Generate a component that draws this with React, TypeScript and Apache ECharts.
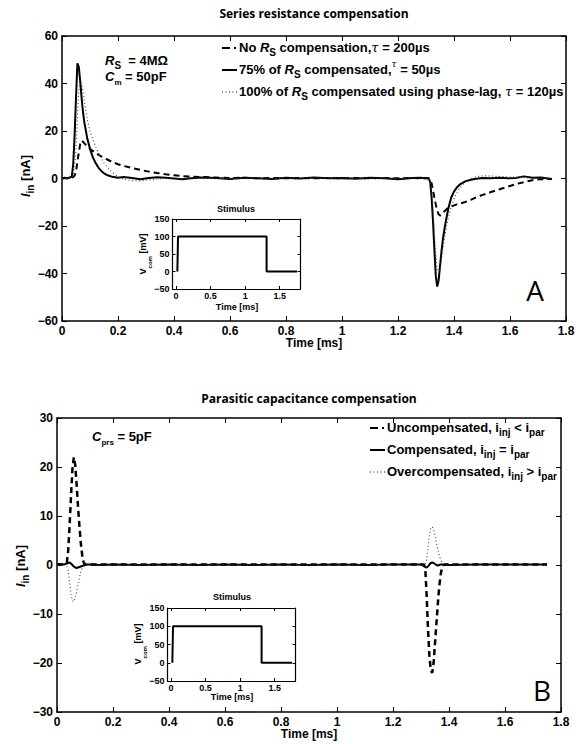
import React, { useEffect, useRef } from "react";
import * as echarts from "echarts";

// ---------- Data ----------
// Panel A: series resistance compensation (time in ms, current in nA)
const topTime = [0, 0.01, 0.02, 0.03, 0.035, 0.04, 0.045, 0.05, 0.055, 0.06, 0.065, 0.07, 0.075, 0.08, 0.09, 0.1, 0.11, 0.12, 0.13, 0.14, 0.15, 0.16, 0.18, 0.2, 0.22, 0.25, 0.28, 0.31, 0.34, 0.37, 0.4, 0.43, 0.46, 0.5, 0.55, 0.6, 0.65, 0.7, 0.75, 0.8, 0.85, 0.9, 0.95, 1.0, 1.05, 1.1, 1.15, 1.2, 1.25, 1.28, 1.3, 1.31, 1.315, 1.32, 1.325, 1.33, 1.335, 1.34, 1.345, 1.35, 1.355, 1.36, 1.365, 1.37, 1.375, 1.38, 1.39, 1.4, 1.41, 1.42, 1.44, 1.46, 1.48, 1.5, 1.53, 1.56, 1.59, 1.62, 1.65, 1.68, 1.71, 1.75];
const topNoComp = [0.1, 0.2, 0.1, 0.3, 0.3, 0.6, 1.2, 3, 7, 11, 14.5, 16, 15.5, 14.8, 13.5, 12.5, 11.6, 10.8, 10, 9.3, 8.7, 8.1, 6.9, 6.0, 5.3, 4.4, 3.6, 2.9, 2.3, 1.8, 1.4, 1.0, 0.8, 0.6, 0.4, 0.2, 0.3, 0.1, 0.2, 0.1, 0.2, 0.1, 0.2, 0.1, 0.2, 0.1, 0.2, 0.1, 0.2, 0.1, 0.2, 0.1, -0.5, -2, -5, -8, -11, -13.5, -15, -15.6, -15.2, -14.5, -13.9, -13.3, -12.8, -12.4, -11.8, -11.3, -10.9, -10.6, -9.9, -9.0, -7.9, -7.0, -5.8, -4.6, -3.5, -2.4, -1.5, -0.7, -0.3, -0.2];
const top75Comp = [0, 0.3, 0.1, 0.5, 0.9, 6, 18, 34, 48.5, 47, 41, 34, 28, 23.5, 17, 12.5, 9, 6.5, 4.6, 3.2, 2.2, 1.5, 0.7, 0.3, 0.6, 0.2, -0.3, 0.2, 0.5, 0.3, 0.0, -0.3, 0.1, 0.4, 0.2, -0.2, 0.3, 0.1, -0.2, 0.3, 0.0, 0.4, 0.1, 0.2, -0.1, 0.3, 0.1, -0.3, 0.2, 0.3, 0.1, 0.0, -1.5, -8, -18, -30, -41, -45.5, -43, -37, -31, -26, -22, -18.5, -15.5, -12.5, -8, -5.5, -3.8, -2.6, -1.2, -0.5, -0.1, 0.2, 0.1, 0.3, 0.1, 0.2, 0.9, 0.3, 0.4, -0.2];
const topPhaseLag = [0, 0.2, 0.1, 0.3, 0.4, 1.5, 5, 12, 26, 37, 41, 40, 36.5, 32.5, 25, 20, 16.5, 13.5, 11, 8.5, 6.5, 5, 2.5, 0.8, -0.3, -0.9, -1.0, -0.6, -0.2, 0.1, 0.2, -0.1, 0.2, 0.3, 0.1, -0.1, 0.2, 0.1, -0.1, 0.2, 0.1, 0.3, 0.1, 0.2, 0.0, 0.2, 0.1, -0.1, 0.2, 0.2, 0.1, 0.0, -1, -5, -13, -23, -32, -38, -40, -38.5, -34.5, -30, -26, -22.5, -19.5, -16.5, -12, -8.5, -6, -4, -1.5, 0, 0.8, 1.1, 1.1, 0.9, 0.7, 0.5, 0.3, 0.2, 0.1, 0.0];

// Panel B: parasitic capacitance compensation
const botTime = [0, 0.02, 0.03, 0.035, 0.04, 0.045, 0.05, 0.055, 0.06, 0.065, 0.07, 0.075, 0.08, 0.085, 0.09, 0.095, 0.1, 0.11, 0.12, 0.15, 0.2, 0.3, 0.4, 0.5, 0.6, 0.7, 0.8, 0.9, 1.0, 1.1, 1.2, 1.3, 1.31, 1.315, 1.32, 1.325, 1.33, 1.335, 1.34, 1.345, 1.35, 1.355, 1.36, 1.365, 1.37, 1.375, 1.38, 1.39, 1.4, 1.5, 1.6, 1.75];
const botUncomp = [0.1, 0.1, 0.2, 0.5, 3, 8, 14, 19.5, 22, 20.5, 16.5, 12, 8, 4.5, 2, 0.6, 0.1, 0.1, 0.1, 0.1, 0.1, 0.1, 0.1, 0.1, 0.1, 0.1, 0.1, 0.1, 0.1, 0.1, 0.1, 0.1, 0.1, -0.5, -6, -13, -18.5, -21.5, -22, -20, -16, -12, -8, -4.5, -2, -0.6, 0, 0.1, 0.1, 0.1, 0.1, 0.1];
const botComp = [0.2, 0.1, 0.2, 0.3, 0.4, 0.5, 0.3, 0, -0.3, -0.5, -0.6, -0.5, -0.4, -0.3, -0.2, -0.1, 0, 0.1, 0.1, 0.0, 0.1, 0.0, 0.1, 0.0, 0.1, 0.0, 0.1, 0.0, 0.1, 0.0, 0.1, 0.1, -0.2, -0.4, -0.5, -0.3, 0.1, 0.4, 0.5, 0.4, 0.2, 0, -0.1, 0, 0.1, 0.1, 0.1, 0.1, 0, 0.1, 0.1, 0.1];
const botOvercomp = [0, 0, 0, -0.2, -1, -3.5, -6, -7.3, -7.5, -6.8, -5.5, -4, -2.6, -1.4, -0.6, -0.1, 0, 0, 0, 0, 0, 0, 0, 0, 0, 0, 0, 0, 0, 0, 0, 0, 0, 0.2, 1, 3.5, 6, 7.5, 7.8, 7.2, 6, 4.6, 3.2, 2, 1.1, 0.5, 0.1, 0, 0, 0, 0, 0];

// Stimulus inset (ms, mV)
const stimTime = [0.02, 0.03, 0.03, 1.31, 1.31, 1.75];
const stimVoltage = [0, 0, 100, 100, 0, 0];
const insetXTicks = [0, 0.5, 1, 1.5];

// ---------- Styling helpers ----------
const FONT = "'Liberation Sans', Arial, Helvetica, sans-serif";
const TITLE_FONT = "'Open Sans', 'Liberation Sans', sans-serif";
const minusFmt = (v: number) => String(v).replace("-", "\u2212");

function xAxes(gridIndex: number, min: number, max: number, interval: number | undefined, fontSize: number, tickLen: number, lw: number, custom?: number[]) {
  const base = (pos: string, label: boolean) => ({
    type: "value",
    gridIndex,
    position: pos,
    min,
    max,
    ...(interval !== undefined ? { interval } : {}),
    axisLine: { show: true, onZero: false, lineStyle: { color: "#000", width: lw } },
    axisTick: { show: true, inside: true, length: tickLen, lineStyle: { color: "#000", width: 1 }, ...(custom ? { customValues: custom } : {}) },
    axisLabel: {
      show: label,
      margin: fontSize > 10 ? 4 : 2,
      color: "#000",
      fontFamily: FONT,
      fontWeight: "bold",
      fontSize,
      formatter: minusFmt,
      showMinLabel: true,
      showMaxLabel: true,
      ...(custom ? { customValues: custom } : {}),
    },
    splitLine: { show: false },
  });
  return [base("bottom", true), base("top", false)];
}

function yAxes(gridIndex: number, min: number, max: number, interval: number, fontSize: number, tickLen: number, lw: number) {
  const base = (pos: string, label: boolean) => ({
    type: "value",
    gridIndex,
    position: pos,
    min,
    max,
    interval,
    axisLine: { show: true, onZero: false, lineStyle: { color: "#000", width: lw } },
    axisTick: { show: true, inside: true, length: tickLen, lineStyle: { color: "#000", width: 1 } },
    axisLabel: {
      show: label,
      margin: fontSize > 10 ? 4 : 3,
      color: "#000",
      fontFamily: FONT,
      fontWeight: "bold",
      fontSize,
      formatter: minusFmt,
      showMinLabel: true,
      showMaxLabel: true,
    },
    splitLine: { show: false },
  });
  return [base("left", true), base("right", false)];
}

const pairs = (xs: number[], ys: number[]) => xs.map((x, i) => [x, ys[i]]);

function lineSeries(name: string, xi: number, yi: number, data: number[][], style: any, z = 2) {
  return {
    name,
    type: "line",
    xAxisIndex: xi,
    yAxisIndex: yi,
    data,
    showSymbol: false,
    symbol: "none",
    z,
    lineStyle: style,
    emphasis: { disabled: true },
  };
}

const richBase = (fs: number) => ({
  t: { fontFamily: FONT, fontWeight: "bold", fontSize: fs, fill: "#000", lineHeight: 20, verticalAlign: "middle" },
  i: { fontFamily: FONT, fontWeight: "bold", fontStyle: "italic", fontSize: fs, fill: "#000", lineHeight: 20, verticalAlign: "middle" },
  g: { fontFamily: "'DejaVu Serif', serif", fontStyle: "italic", fontSize: fs, fill: "#000", lineHeight: 20, verticalAlign: "middle" },
  s: { fontFamily: FONT, fontWeight: "bold", fontSize: fs - 3, fill: "#000", lineHeight: fs - 3, verticalAlign: "bottom" },
  s2: { fontFamily: FONT, fontWeight: "bold", fontSize: fs - 5, fill: "#000", lineHeight: fs - 5, verticalAlign: "bottom" },
  sup: { fontFamily: "'DejaVu Serif', serif", fontStyle: "italic", fontSize: fs - 4, fill: "#000", lineHeight: fs - 4, verticalAlign: "top" },
});

function richText(x: number, y: number, text: string, fs: number, opts: any = {}) {
  return {
    type: "text",
    x,
    y,
    rotation: opts.rotation || 0,
    z: 100,
    style: {
      text,
      rich: richBase(fs),
      align: opts.align || "left",
      verticalAlign: "middle",
      fontFamily: FONT,
      fontWeight: "bold",
      fontSize: fs,
      fill: "#000",
    },
  };
}

function plainText(x: number, y: number, text: string, fs: number, family: string, weight: string, rotation = 0) {
  return {
    type: "text",
    x,
    y,
    rotation,
    z: 100,
    style: { text, fontFamily: family, fontWeight: weight, fontSize: fs, fill: "#000", align: "center", verticalAlign: "middle" },
  };
}

function seg(x1: number, y1: number, x2: number, y2: number, lw: number, dash?: number[]) {
  return {
    type: "line",
    z: 100,
    shape: { x1, y1, x2, y2 },
    style: { stroke: "#000", lineWidth: lw, ...(dash ? { lineDash: dash } : {}) },
  };
}

export default function App() {
  const ref = useRef<HTMLDivElement>(null);

  useEffect(() => {
    if (!ref.current) return;
    const chart = echarts.init(ref.current, undefined, { renderer: "svg" });

    const grids = [
      { left: 62, top: 36, width: 504, height: 285 },
      { left: 57, top: 418, width: 504, height: 294 },
      { left: 172.5, top: 219, width: 128, height: 70 },
      { left: 167.5, top: 608, width: 128, height: 73 },
    ];

    const xA = [
      ...xAxes(0, 0, 1.8, 0.2, 12, 5, 1.5),
      ...xAxes(1, 0, 1.8, 0.2, 12, 5, 1.5),
      ...xAxes(2, -0.05, 1.8, undefined, 9, 3, 1.2, insetXTicks),
      ...xAxes(3, -0.05, 1.8, undefined, 9, 3, 1.2, insetXTicks),
    ];
    const yA = [
      ...yAxes(0, -60, 60, 20, 12, 5, 1.5),
      ...yAxes(1, -30, 30, 10, 12, 5, 1.5),
      ...yAxes(2, -50, 150, 50, 9, 3, 1.2),
      ...yAxes(3, -50, 150, 50, 9, 3, 1.2),
    ];

    const dashedTop = { color: "#000", width: 2, type: [6, 4] };
    const solid = { color: "#000", width: 2, type: "solid" };
    const dotted = { color: "#444", width: 1.1, type: [1, 2.5] };
    const dashedBot = { color: "#000", width: 2.5, type: [6, 4] };

    const series = [
      lineSeries("No RS compensation", 0, 0, pairs(topTime, topNoComp), dashedTop),
      lineSeries("75% of RS compensated", 0, 0, pairs(topTime, top75Comp), solid),
      lineSeries("100% of RS compensated using phase-lag", 0, 0, pairs(topTime, topPhaseLag), dotted, 3),
      lineSeries("Uncompensated", 2, 2, pairs(botTime, botUncomp), dashedBot),
      lineSeries("Compensated", 2, 2, pairs(botTime, botComp), solid),
      lineSeries("Overcompensated", 2, 2, pairs(botTime, botOvercomp), dotted, 3),
      lineSeries("Stimulus A", 4, 4, pairs(stimTime, stimVoltage), { color: "#000", width: 2 }),
      lineSeries("Stimulus B", 6, 6, pairs(stimTime, stimVoltage), { color: "#000", width: 2 }),
    ];

    const graphic: any[] = [
      // titles
      plainText(314, 13, "Series resistance compensation", 12, TITLE_FONT, "bold"),
      plainText(309, 398, "Parasitic capacitance compensation", 12, TITLE_FONT, "bold"),
      // main axis names
      plainText(314, 343, "Time [ms]", 12, FONT, "bold"),
      plainText(309, 734, "Time [ms]", 12, FONT, "bold"),
      richText(25, 176, "{i|I}{s|in}{t| [nA]}", 13, { rotation: Math.PI / 2, align: "center" }),
      richText(20, 566, "{i|I}{s|in}{t| [nA]}", 13, { rotation: Math.PI / 2, align: "center" }),
      // panel letters
      plainText(535, 290, "A", 28, "'Open Sans', 'DejaVu Sans', sans-serif", "normal"),
      plainText(542, 690, "B", 28, "'Open Sans', 'DejaVu Sans', sans-serif", "normal"),
      // annotations
      richText(105, 60, "{i|R}{s|S}{t|  = 4MΩ}", 13),
      richText(105, 76, "{i|C}{s2|m}{t| = 50pF}", 13),
      richText(92, 436, "{i|C}{s2|prs}{t| = 5pF}", 13),
      // inset titles and names
      plainText(236, 209, "Stimulus", 9, FONT, "bold"),
      plainText(232, 597, "Stimulus", 9, FONT, "bold"),
      plainText(237, 307, "Time [ms]", 9, FONT, "bold"),
      plainText(232, 697, "Time [ms]", 9, FONT, "bold"),
      richText(143, 254, "{t|V}{s|com}{t| [mV]}", 9, { rotation: Math.PI / 2, align: "center" }),
      richText(138, 644, "{t|V}{s|com}{t| [mV]}", 9, { rotation: Math.PI / 2, align: "center" }),
      // top legend
      seg(222, 48, 230, 48, 2),
      seg(234, 48, 236, 48, 2),
      seg(222, 70, 237, 70, 2),
      seg(222, 92, 237, 92, 1, [1, 2.5]),
      richText(239, 47, "{t|No }{i|R}{s|S}{t| compensation,}{g|τ}{t| = 200µs}", 13),
      richText(239, 69, "{t|75% of }{i|R}{s|S}{t| compensated,}{sup|τ}{t| = 50µs}", 13),
      richText(239, 91, "{t|100% of }{i|R}{s|S}{t| compensated using phase-lag, }{g|τ}{t| = 120µs}", 13),
      // bottom legend
      seg(370, 428, 378, 428, 2),
      seg(382, 428, 384, 428, 2),
      seg(370, 450, 385, 450, 2),
      seg(370, 472, 385, 472, 1, [1, 2.5]),
      richText(387, 427, "{t|Uncompensated, i}{s|inj}{t| < i}{s|par}", 13),
      richText(387, 449, "{t|Compensated, i}{s|inj}{t| = i}{s|par}", 13),
      richText(387, 471, "{t|Overcompensated, i}{s|inj}{t| > i}{s|par}", 13),
    ];

    chart.setOption({
      animation: false,
      backgroundColor: "#fff",
      grid: grids,
      xAxis: xA,
      yAxis: yA,
      series,
      graphic,
    });

    return () => chart.dispose();
  }, []);

  return (
    <div
      ref={ref}
      style={{ position: "absolute", left: 0, top: 0, width: 585, height: 744, background: "#fff" }}
    />
  );
}
